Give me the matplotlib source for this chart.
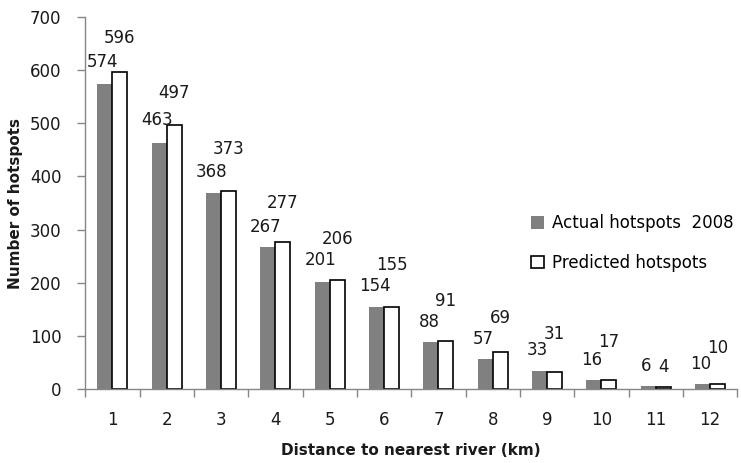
import numpy as np
import matplotlib.pyplot as plt
from matplotlib.patches import Patch

# distance classes (km) and hotspot counts
distance = ['1', '2', '3', '4', '5', '6', '7', '8', '9', '10', '11', '12']
actual = [574, 463, 368, 267, 201, 154, 88, 57, 33, 16, 6, 10]
predicted = [596, 497, 373, 277, 206, 155, 91, 69, 31, 17, 4, 10]

# vertical offset (pixels) of each value label above its bar
actual_dy = [22, 23, 21, 20, 22, 21, 20, 20, 21, 20, 20, 20]
pred_dy = [34, 32, 42, 39, 41, 42, 40, 34, 38, 38, 20, 36]

plt.rcParams['font.family'] = 'DejaVu Sans'
txt_col = '#1a1a1a'
axis_col = '#868686'

fig = plt.figure(figsize=(7.41, 4.63), dpi=100)
ax = fig.add_axes([0.115, 0.16, 0.88, 0.803])

x = np.arange(len(distance))
w = 0.276
ax.bar(x - w / 2, actual, w, color='#808080', edgecolor='none')
ax.bar(x + w / 2, predicted, w, color='white', edgecolor='black', linewidth=1.2)

for xi, v, dy in zip(x - w / 2, actual, actual_dy):
    ax.annotate(str(v), (xi, v), xytext=(-2, dy), textcoords='offset pixels',
                ha='center', va='center', fontsize=12, color=txt_col)
for xi, v, dy in zip(x + w / 2, predicted, pred_dy):
    ax.annotate(str(v), (xi, v), xytext=(0, dy), textcoords='offset pixels',
                ha='center', va='center', fontsize=12, color=txt_col)

ax.set_xlim(-0.5, len(distance) - 0.5)
ax.set_ylim(0, 700)
ax.set_yticks(range(0, 701, 100))
ax.set_xticks(x)
ax.set_xticklabels(distance)
ax.set_xticks(np.arange(-0.5, len(distance), 1), minor=True)

ax.tick_params(axis='x', which='major', length=0, pad=16, labelsize=12, labelcolor=txt_col)
ax.tick_params(axis='x', which='minor', length=6, width=1, color=axis_col, direction='out')
ax.tick_params(axis='y', length=6, width=1, color=axis_col, pad=11, labelsize=12, labelcolor=txt_col)

for s in ['top', 'right']:
    ax.spines[s].set_visible(False)
for s in ['left', 'bottom']:
    ax.spines[s].set_color(axis_col)
    ax.spines[s].set_linewidth(1)

ax.set_xlabel('Distance to nearest river (km)', fontsize=11, fontweight='bold', labelpad=10, color=txt_col)
ax.set_ylabel('Number of hotspots', fontsize=11, fontweight='bold', color=txt_col)
ax.yaxis.set_label_coords(-0.095, 0.5)

handles = [Patch(facecolor='#808080', edgecolor='none'),
           Patch(facecolor='white', edgecolor='black', linewidth=1.2)]
ax.legend(handles, ['Actual hotspots  2008', 'Predicted hotspots'],
          loc='upper left', bbox_to_anchor=(531 / 741, 1 - 214 / 463),
          bbox_transform=fig.transFigure, frameon=False, fontsize=12,
          handlelength=0.8, handleheight=0.8, handletextpad=0.45,
          labelspacing=1.3, borderpad=0, borderaxespad=0)

fig.savefig('out.png', dpi=100)
